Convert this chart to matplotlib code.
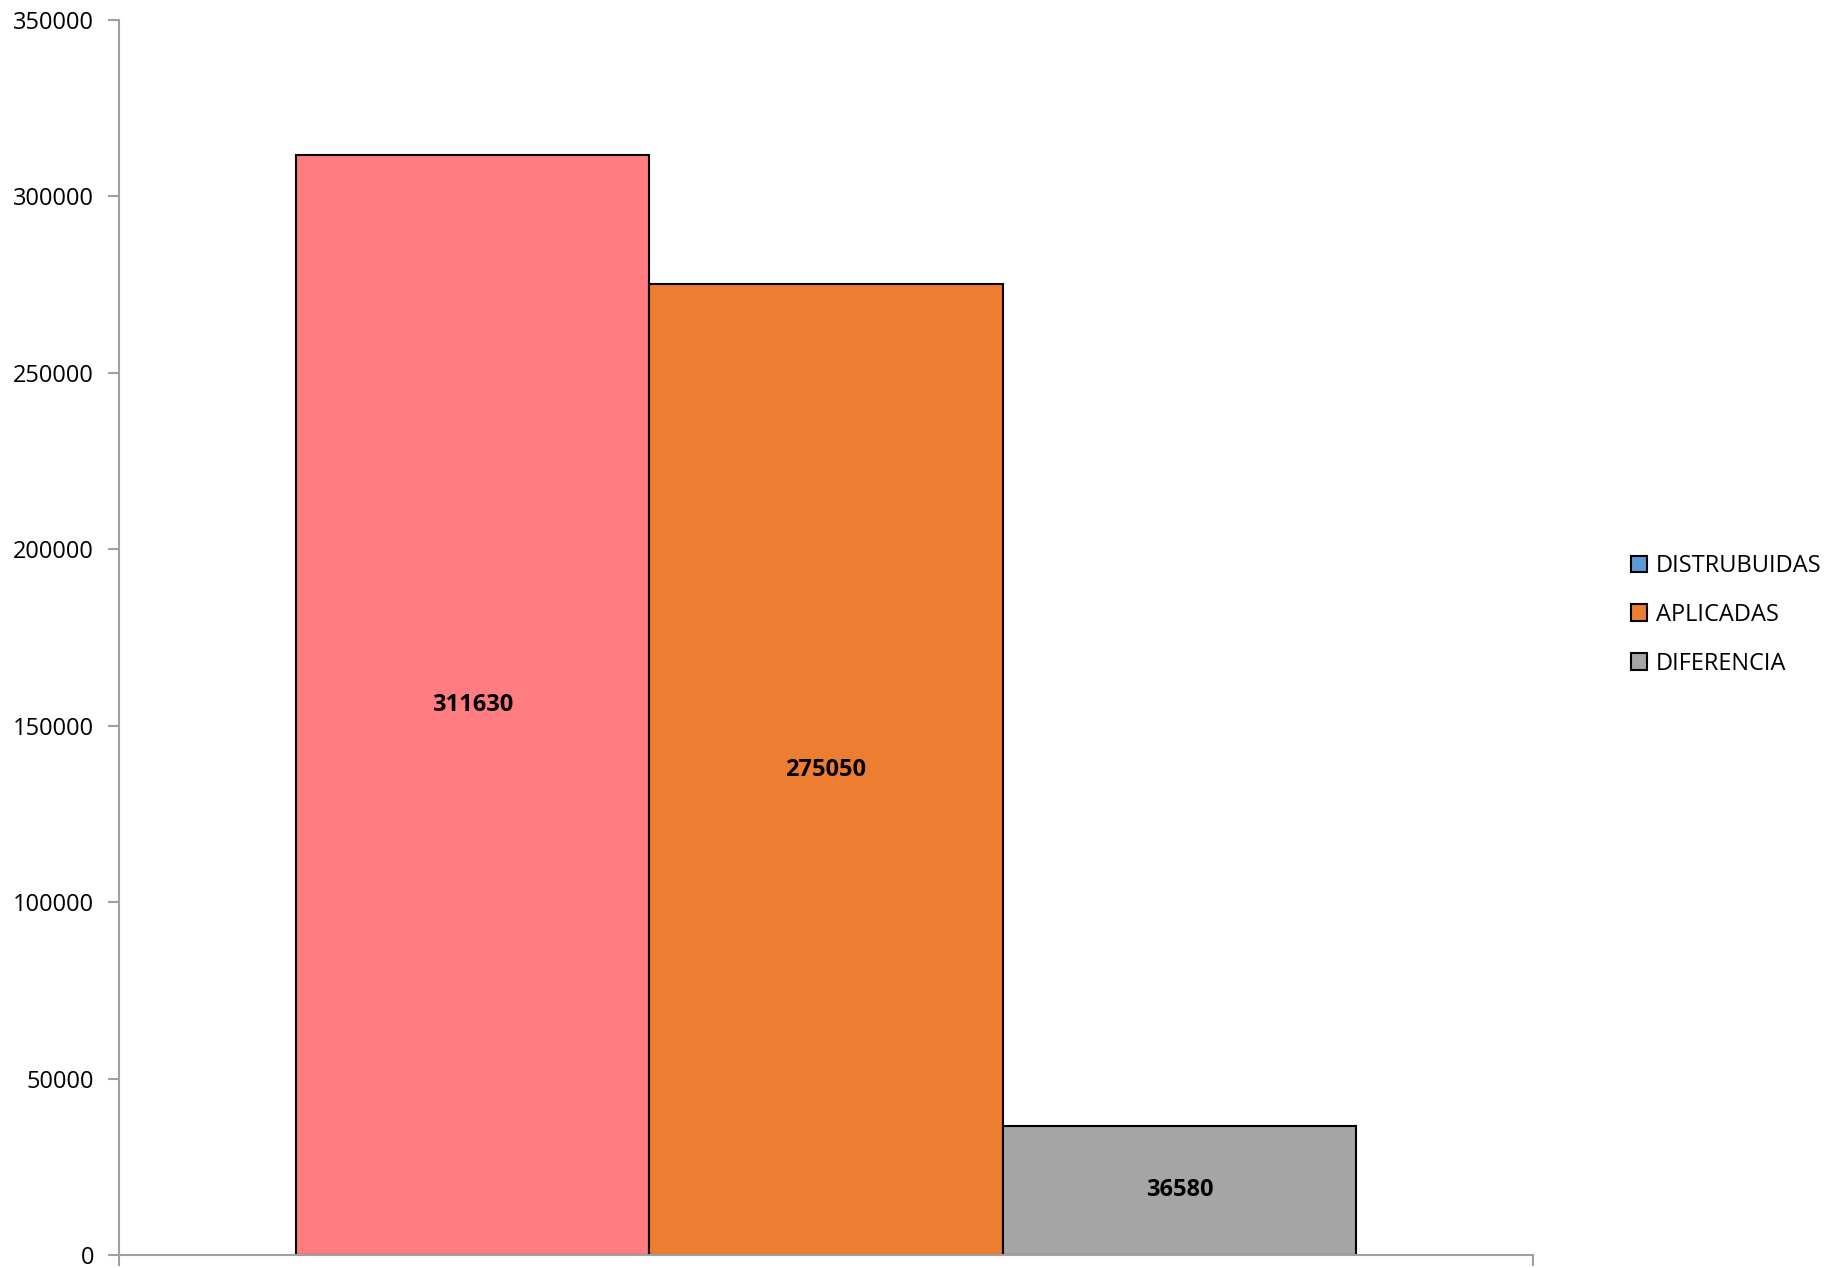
import matplotlib.pyplot as plt
from matplotlib.patches import Patch

# Series values (one category, three series)
series = ["DISTRUBUIDAS", "APLICADAS", "DIFERENCIA"]
values = [311630, 275050, 36580]
bar_colors = ["#FF7C80", "#ED7D31", "#A5A5A5"]
legend_colors = ["#5B9BD5", "#ED7D31", "#A5A5A5"]
y_ticks = [0, 50000, 100000, 150000, 200000, 250000, 300000, 350000]

plt.rcParams['font.family'] = ['Open Sans', 'DejaVu Sans']

fig = plt.figure(figsize=(18.29, 12.68), dpi=100)
ax = fig.add_axes([0.0651, 0.0103, 0.773, 0.9739])

positions = [-1, 0, 1]
bars = ax.bar(positions, values, width=1.0, color=bar_colors,
              edgecolor="black", linewidth=1.5, zorder=2)

for b, v in zip(bars, values):
    ax.text(b.get_x() + b.get_width() / 2, v / 2, str(v), ha="center",
            va="center", fontsize=17, fontweight="bold", color="black")

ax.set_xlim(-2, 2)
ax.set_ylim(0, 350000)
ax.set_yticks(y_ticks)
ax.set_yticklabels([str(t) for t in y_ticks], fontsize=17)
ax.set_xticks([-2, 2])
ax.set_xticklabels([])

for side in ["top", "right"]:
    ax.spines[side].set_visible(False)
for side in ["left", "bottom"]:
    ax.spines[side].set_color("#A0A0A0")
    ax.spines[side].set_linewidth(1.5)
ax.tick_params(axis="both", direction="out", length=8, width=1.5,
               color="#A0A0A0", pad=10)

handles = [Patch(facecolor=c, edgecolor="black", linewidth=1.5) for c in legend_colors]
fig.legend(handles, series, loc="center left", bbox_to_anchor=(0.88, 0.515),
           frameon=False, fontsize=17, handlelength=0.7, handleheight=0.7,
           handletextpad=0.35, labelspacing=1.05)

fig.savefig("out.png", dpi=100)
